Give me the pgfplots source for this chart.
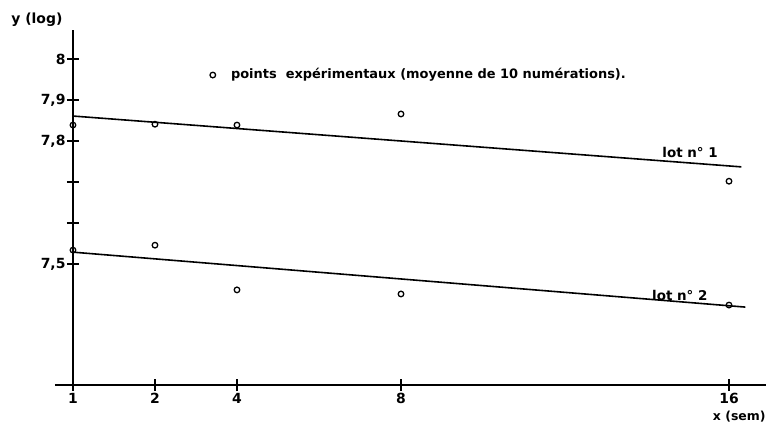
\documentclass[border=0pt]{standalone}
\usepackage{pgfplots}
\pgfplotsset{compat=1.18}
\usepackage{fontspec}
\setmainfont{DejaVu Sans}
\begin{document}
\begin{tikzpicture}
\begin{axis}[
  x=41bp, y=410bp,
  xmin=0, xmax=16.9, ymin=7.205, ymax=8.07,
  axis lines=left,
  axis line style={line width=1.3pt, -},
  clip=false,
  xtick={0,2,4,8,16}, xticklabels={1,2,4,8,16},
  ytick={7.5,7.6,7.7,7.8,7.9,8}, yticklabels={{7,5},,,{7,8},{7,9},8},
  tick align=center, major tick length=12bp,
  tick style={line width=1.2pt, black},
  every tick label/.append style={font=\fontsize{14}{16}\selectfont\bfseries},
  /pgf/number format/assume math mode=true,
  xticklabel style={yshift=1bp},
  yticklabel style={xshift=2bp},
]
% bounding box: reference picture frame
\path (axis cs:-1.78,8.144) rectangle (axis cs:17.0,7.110);
\draw[line width=1.3pt] (axis cs:0,7.205) -- (axis cs:0,7.19);
\draw[line width=1.3pt] (axis cs:-0.44,7.205) -- (axis cs:0,7.205);
% lot 1
\addplot[only marks, mark=o, mark size=2.8pt, line width=1.3pt] coordinates {
 (0,7.839) (2,7.841) (4,7.839) (8,7.866) (16,7.702)};
\addplot[no marks, line width=1.6pt] coordinates {(0,7.861) (16.3,7.737)};
% lot 2
\addplot[only marks, mark=o, mark size=2.8pt, line width=1.3pt] coordinates {
 (0,7.534) (2,7.546) (4,7.437) (8,7.427) (16,7.400)};
\addplot[no marks, line width=1.6pt] coordinates {(0,7.529) (16.4,7.395)};
% legend mark
\addplot[only marks, mark=o, mark size=2.8pt, line width=1.3pt] coordinates {(3.41,7.961)};
\node[anchor=west, inner sep=0pt, font=\fontsize{13}{15}\selectfont\bfseries] at (axis cs:3.85,7.961) {points\ \ expérimentaux\ (moyenne de 10 numérations).};
\node[inner sep=0pt, font=\fontsize{13.5}{15}\selectfont\bfseries] at (axis cs:15.05,7.771) {lot n° 1};
\node[inner sep=0pt, font=\fontsize{13.5}{15}\selectfont\bfseries] at (axis cs:14.8,7.424) {lot n° 2};
\node[inner sep=0pt, font=\fontsize{14}{16}\selectfont\bfseries] at (axis cs:-0.88,8.095) {y (log)};
\node[inner sep=0pt, anchor=south, font=\fontsize{12.5}{14}\selectfont\bfseries] at (axis cs:16.25,7.114) {x (sem)};
\end{axis}
\end{tikzpicture}
\end{document}
